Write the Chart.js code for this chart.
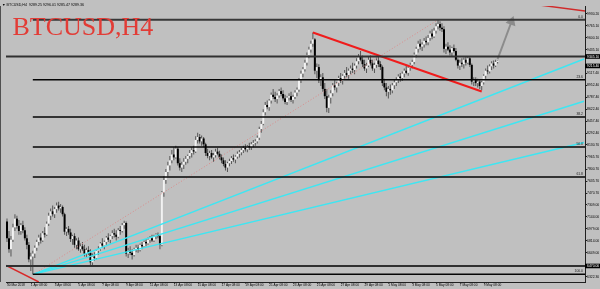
<!DOCTYPE html>
<html><head><meta charset="utf-8">
<script src="https://cdn.jsdelivr.net/npm/chart.js@4.4.1/dist/chart.umd.min.js"></script>
<style>html,body{margin:0;padding:0;background:#c0c0c0;overflow:hidden}canvas{display:block}</style>
</head><body>
<canvas id="c" width="600" height="289"></canvas>
<script>
const opens = [
7080,6850,6700,6830,7000,7120,7020,6950,7030,6960, 6850,6760,6560,6600,6640,6720,6800,6860,6820,6920,
6900,7050,7160,7220,7180,7250,7300,7260,7280,7180, 6940,6980,6930,6840,6880,6760,6820,6700,6740,6700,
6640,6690,6650,6520,6600,6580,6680,6700,6780,6750, 6800,6860,6830,6880,6920,6900,6870,6960,6950,7030,
7060,6640,6680,6650,6620,6700,6720,6690,6760,6740, 6800,6780,6830,6850,6820,6880,6900,6880,6760,7480,
7650,7760,7850,7920,8000,7960,8080,7880,7820,7860, 7900,7940,7980,8020,8060,8040,8200,8240,8180,8220,
8140,8020,7980,8020,7960,7990,8040,8010,7960,7920, 7870,7820,7880,7910,7950,7930,7970,8010,8030,8060,
8090,8070,8110,8100,8140,8160,8180,8230,8350,8420, 8580,8680,8650,8740,8820,8790,8760,8810,8870,8830,
8770,8720,8780,8800,8750,8790,8850,8890,9020,9110, 9170,9260,9360,9440,9520,9580,9150,9200,9020,9060,
8900,8800,8640,8780,8840,8950,8920,8980,9050,9010, 9080,9120,9090,9150,9180,9160,9220,9280,9340,9300,
9240,9180,9220,9300,9250,9180,9230,9290,9240,9200, 8980,8920,8860,8900,8880,8950,8990,9020,9070,9050,
9110,9150,9120,9190,9230,9270,9370,9450,9520,9480, 9510,9560,9540,9600,9660,9620,9700,9760,9790,9740,
9720,9450,9480,9440,9400,9460,9420,9300,9220,9260, 9240,9300,9260,9320,9230,9000,9020,8980,9000,8940,
8990,9080,9150,9140,9210,9250,9220,9270];
const highs = [
7120,6950,6880,7050,7180,7160,7100,7060,7090,7000, 6900,6800,6650,6680,6750,6830,6900,6920,6950,7000,
7080,7200,7260,7300,7280,7340,7350,7320,7300,7200, 7000,7020,6980,6900,6920,6850,6860,6780,6800,6760,
6720,6740,6700,6640,6660,6700,6740,6800,6850,6820, 6880,6920,6900,6960,6980,6960,6990,7020,7060,7090,
7080,6720,6740,6700,6720,6760,6760,6780,6800,6820, 6840,6860,6880,6900,6900,6920,6930,6900,7500,7700,
7800,7900,7980,8060,8100,8120,8100,7950,7900,7950, 7980,8000,8060,8100,8120,8250,8300,8280,8260,8240,
8160,8080,8050,8060,8020,8080,8090,8050,8000,7960, 7920,7900,7940,7980,8000,7990,8040,8060,8090,8120,
8140,8130,8160,8170,8200,8210,8260,8380,8460,8620, 8720,8740,8760,8850,8900,8860,8840,8900,8920,8880,
8820,8800,8840,8860,8820,8880,8920,9050,9150,9200, 9300,9400,9480,9560,9674,9600,9250,9240,9100,9120,
8980,8900,8820,8880,8980,9020,9000,9080,9120,9100, 9160,9200,9180,9220,9260,9250,9320,9380,9420,9360,
9300,9260,9340,9360,9300,9260,9330,9340,9280,9220, 9040,8980,8940,8960,8980,9030,9060,9100,9120,9140,
9180,9220,9210,9260,9300,9400,9480,9560,9580,9540, 9600,9620,9640,9700,9720,9740,9800,9849,9830,9800,
9760,9520,9540,9500,9480,9510,9460,9320,9300,9320, 9330,9340,9350,9340,9250,9060,9060,9040,9020,9010,
9100,9180,9220,9240,9280,9290,9300,9296];
const lows = [
6800,6650,6600,6800,6950,6980,6900,6900,6920,6820, 6700,6520,6400,6358,6580,6680,6750,6780,6800,6860,
6880,7020,7100,7150,7130,7200,7230,7200,7150,6900, 6880,6900,6800,6760,6720,6700,6680,6650,6680,6600,
6590,6620,6480,6460,6540,6560,6620,6680,6720,6700, 6760,6800,6780,6840,6860,6820,6850,6900,6930,6980,
6600,6580,6620,6560,6600,6660,6650,6670,6700,6720, 6740,6760,6790,6800,6800,6840,6850,6700,6740,7420,
7600,7700,7780,7880,7920,7940,7850,7780,7760,7800, 7860,7880,7940,7960,8000,8020,8150,8150,8120,8100,
7980,7950,7920,7940,7900,7960,7990,7930,7880,7840, 7780,7760,7840,7870,7900,7880,7940,7960,7990,8020,
8040,8030,8060,8060,8100,8120,8150,8200,8300,8400, 8540,8620,8600,8700,8760,8720,8700,8780,8800,8740,
8690,8680,8740,8720,8700,8760,8800,8860,8980,9060, 9140,9220,9320,9400,9480,9100,9050,8980,8940,8860,
8760,8580,8570,8700,8800,8880,8850,8940,8980,8960, 9040,9060,9040,9100,9120,9100,9180,9240,9280,9200,
9150,9120,9200,9220,9150,9120,9190,9200,9160,8940, 8880,8800,8770,8820,8840,8900,8940,8980,9000,9010,
9060,9100,9080,9150,9180,9240,9330,9400,9440,9420, 9470,9500,9500,9560,9580,9600,9660,9720,9700,9680,
9400,9380,9420,9360,9340,9400,9280,9180,9160,9200, 9180,9220,9240,9200,8960,8940,8940,8920,8900,8880,
8960,9040,9100,9110,9160,9180,9200,9250];
const closes = [
6850,6700,6830,7000,7120,7020,6950,7030,6960,6850, 6760,6560,6600,6640,6720,6800,6860,6820,6920,6900,
7050,7160,7220,7180,7250,7300,7260,7280,7180,6940, 6980,6930,6840,6880,6760,6820,6700,6740,6700,6640,
6690,6650,6520,6600,6580,6680,6700,6780,6750,6800, 6860,6830,6880,6920,6900,6870,6960,6950,7030,7060,
6640,6680,6650,6620,6700,6720,6690,6760,6740,6800, 6780,6830,6850,6820,6880,6900,6880,6760,7480,7650,
7760,7850,7920,8000,7960,8080,7880,7820,7860,7900, 7940,7980,8020,8060,8040,8200,8240,8180,8220,8140,
8020,7980,8020,7960,7990,8040,8010,7960,7920,7870, 7820,7880,7910,7950,7930,7970,8010,8030,8060,8090,
8070,8110,8100,8140,8160,8180,8230,8350,8420,8580, 8680,8650,8740,8820,8790,8760,8810,8870,8830,8770,
8720,8780,8800,8750,8790,8850,8890,9020,9110,9170, 9260,9360,9440,9520,9580,9150,9200,9020,9060,8900,
8800,8640,8780,8840,8950,8920,8980,9050,9010,9080, 9120,9090,9150,9180,9160,9220,9280,9340,9300,9240,
9180,9220,9300,9250,9180,9230,9290,9240,9200,8980, 8920,8860,8900,8880,8950,8990,9020,9070,9050,9110,
9150,9120,9190,9230,9270,9370,9450,9520,9480,9510, 9560,9540,9600,9660,9620,9700,9760,9790,9740,9720,
9450,9480,9440,9400,9460,9420,9300,9220,9260,9240, 9300,9260,9320,9230,9000,9020,8980,9000,8940,8990,
9080,9150,9140,9210,9250,9220,9270,9289];

const xTickIndex = [0,12,24,36,48,60,72,84,96,108,120,132,144,156,168,180,192,204,216,228,240];
const xTickText = ["30 Mar 2018","1 Apr 08:00","3 Apr 08:00","5 Apr 08:00","7 Apr 08:00","9 Apr 08:00",
  "11 Apr 08:00","13 Apr 08:00","15 Apr 08:00","17 Apr 08:00","19 Apr 08:00","21 Apr 08:00","23 Apr 08:00",
  "25 Apr 08:00","27 Apr 08:00","29 Apr 08:00","1 May 08:00","3 May 08:00","5 May 08:00","7 May 08:00","9 May 08:00"];
const yTickValues = [9930.20,9765.10,9600.10,9435.10,9117.40,8952.40,8787.40,8622.40,8457.40,8292.40,
  8130.70,7965.70,7800.70,7635.70,7470.70,7309.00,7144.00,6979.00,6814.00,6649.00,6322.30];

const fibPrices = [9849, 9025, 8515, 8104, 7692, 6358];
const fibNames = ["0.0","23.6","38.2","50.0","61.8","100.0"];
const fibStartIndex = 13;
const levelPrices = [9345, 6470];
const markerPrices = [9345.10, 9215.40, 6470.00];
const fanStartIndex = 13.5, fanStartPrice = 6358;
const fanEndPrices = [9310, 8730, 8164];
const redLineIdx = [154, 239], redLinePrice = [9674, 8865];
const redLowIdx = [-0.5, 16], redLowPrice = [6479, 6250];
const redTopIdx = [269, 291], redTopPrice = [10047, 9970];
const diagIdx = [13.5, 217], diagPrice = [6358, 9849];
const arrowIdx = [247, 254], arrowPrice = [9310, 9822];
const infoText = "\u25BC BTCUSD,H4  9289.25 9296.01 9285.47 9289.36";
const titleText = "BTCUSD,H4";

const X_MIN = -0.5, X_MAX = 291, Y_MIN = 6250, Y_MAX = 10038;

const wickData = opens.map((o, i) => ({x: i, y: [lows[i], highs[i]]}));
const bodyData = opens.map((o, i) => ({x: i, y: [Math.min(o, closes[i]), Math.max(o, closes[i])]}));
const bodyColors = opens.map((o, i) => closes[i] >= o ? '#f2f2f2' : '#000000');

function lineDs(xs, ys, color, width, extra) {
  return Object.assign({type: 'line', data: xs.map((x, k) => ({x: x, y: ys[k]})), borderColor: color,
    borderWidth: width, pointRadius: 0, fill: false, tension: 0, order: 1}, extra || {});
}

const datasets = [];
datasets.push({type: 'bar', data: bodyData, backgroundColor: bodyColors, barThickness: 2, grouped: false,
  inflateAmount: 0, minBarLength: 1, order: 10, borderWidth: 0});
datasets.push({type: 'bar', data: wickData, backgroundColor: '#555555', barThickness: 1, grouped: false,
  inflateAmount: 0, order: 11, borderWidth: 0});
fibPrices.forEach((p, k) => {
  datasets.push(lineDs([fibStartIndex, X_MAX], [p, p], k === 0 ? '#383838' : '#050505', k === 0 ? 2 : 1.5));
});
levelPrices.forEach(p => datasets.push(lineDs([X_MIN, X_MAX], [p, p], '#303030', 2)));
fanEndPrices.forEach(p => datasets.push(lineDs([fanStartIndex, 290.5], [fanStartPrice, p], '#3ee6f2', 1.5)));
datasets.push(lineDs(diagIdx, diagPrice, '#d98a8a', 1, {borderDash: [1, 2]}));
datasets.push(lineDs(redLineIdx, redLinePrice, '#f01c1c', 2));
datasets.push(lineDs(redLowIdx, redLowPrice, '#d82a2a', 1.5, {clip: 0}));
datasets.push(lineDs(redTopIdx, redTopPrice, '#d02a2a', 1.5, {clip: 0}));
datasets.push(lineDs(arrowIdx, arrowPrice, '#8c8c8c', 2, {
  pointRadius: [0, 4], pointStyle: 'triangle', pointRotation: [0, 20],
  pointBackgroundColor: '#8c8c8c', pointBorderColor: '#8c8c8c', clip: false}));

const overlay = {
  id: 'overlay',
  afterDraw(chart) {
    const ctx = chart.ctx, ca = chart.chartArea, ys = chart.scales.y, xs = chart.scales.x;
    ctx.save();
    ctx.strokeStyle = '#505050'; ctx.lineWidth = 1;
    ctx.beginPath(); ctx.moveTo(0.5, 6); ctx.lineTo(0.5, ca.bottom); ctx.stroke();
    // x axis labels and tick marks
    ctx.font = '3.2px "Liberation Sans"'; ctx.fillStyle = '#000'; ctx.strokeStyle = '#202020';
    ctx.textAlign = 'left'; ctx.textBaseline = 'top';
    xTickIndex.forEach((v, k) => {
      const x = xs.getPixelForValue(v);
      ctx.beginPath(); ctx.moveTo(Math.round(x) + 0.5, ca.bottom); ctx.lineTo(Math.round(x) + 0.5, ca.bottom + 1.5); ctx.stroke();
      ctx.fillText(xTickText[k], x, ca.bottom + 2);
    });
    // fib labels
    ctx.font = '3.4px "Liberation Sans"'; ctx.fillStyle = '#202020';
    ctx.textAlign = 'right'; ctx.textBaseline = 'bottom';
    fibPrices.forEach((p, k) => ctx.fillText(fibNames[k], ca.right - 2, ys.getPixelForValue(p) - 1));
    // price markers on the axis
    ctx.textAlign = 'left'; ctx.textBaseline = 'middle';
    markerPrices.forEach(p => {
      const y = ys.getPixelForValue(p);
      ctx.fillStyle = '#000'; ctx.fillRect(ca.right, y - 2.3, 600 - ca.right, 4.6);
      ctx.fillStyle = '#fff'; ctx.fillText(p.toFixed(2), ca.right + 2, y + 0.2);
    });
    // info line
    ctx.fillStyle = '#000'; ctx.font = '3.6px "Liberation Sans"'; ctx.textBaseline = 'alphabetic';
    ctx.fillText(infoText, 2, 5.5);
    // title
    ctx.fillStyle = '#e23c36'; ctx.font = '26px "Liberation Serif"';
    ctx.fillText(titleText, 12.5, 35);
    ctx.restore();
  }
};

new Chart(document.getElementById('c'), {
  type: 'bar',
  data: {datasets: datasets},
  plugins: [overlay],
  options: {
    animation: false, responsive: false, maintainAspectRatio: false, devicePixelRatio: 1,
    layout: {padding: {left: 1, top: 1, right: 0, bottom: 0}},
    plugins: {legend: {display: false}, tooltip: {enabled: false}},
    scales: {
      x: {
        type: 'linear', min: X_MIN, max: X_MAX, offset: false,
        grid: {display: false},
        border: {display: true, color: '#202020', width: 1},
        afterBuildTicks(s) { s.ticks = xTickIndex.map(v => ({value: v})); },
        afterFit(s) { s.height = 7; },
        ticks: {display: false}
      },
      y: {
        type: 'linear', position: 'right', min: Y_MIN, max: Y_MAX, beginAtZero: false,
        grid: {display: true, drawOnChartArea: false, drawTicks: true, tickLength: 2, color: '#202020'},
        border: {display: true, color: '#202020', width: 1},
        afterBuildTicks(s) { s.ticks = yTickValues.map(v => ({value: v})); },
        afterFit(s) { s.width = 15; },
        ticks: {autoSkip: false, padding: 0, color: '#000', font: {size: 3.4, family: 'Liberation Sans'},
          callback: v => Number(v).toFixed(2)}
      }
    }
  }
});
</script>
</body></html>
